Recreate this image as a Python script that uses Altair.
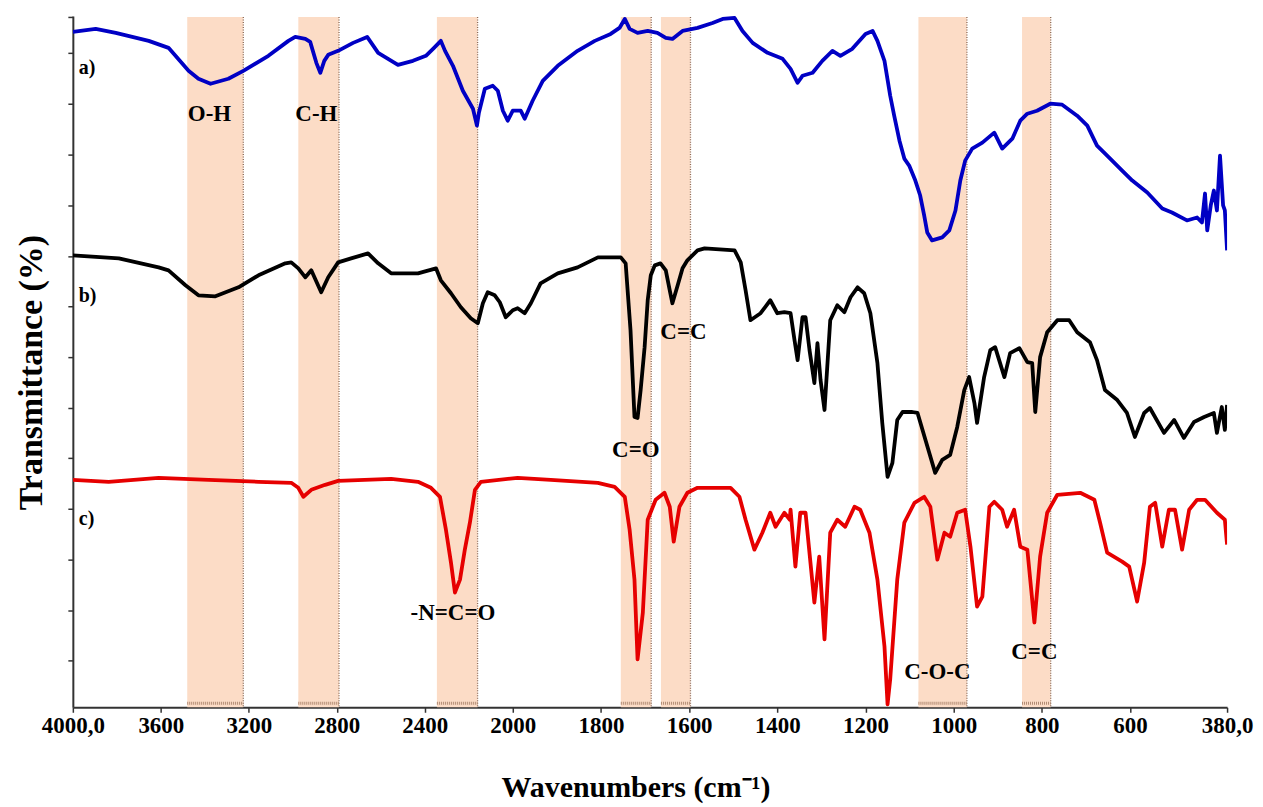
import altair as alt
import pandas as pd

# ---- spectrum a) (blue) ----
a_wn = [4000, 3896, 3805, 3655, 3565, 3474, 3429, 3374, 3293, 3225, 3111, 3020, 2989, 2943, 2921, 2893,
        2875, 2857, 2839, 2794, 2726, 2662, 2612, 2522, 2454, 2395, 2358, 2327, 2308, 2272, 2227, 2181,
        2163, 2154, 2127, 2091, 2068, 2045, 2023, 2000, 1982, 1973, 1955, 1932, 1898, 1853, 1814, 1778,
        1758, 1746, 1735, 1717, 1694, 1672, 1653, 1638, 1615, 1581, 1547, 1524, 1497, 1479, 1456, 1422,
        1388, 1370, 1354, 1343, 1320, 1298, 1275, 1257, 1230, 1200, 1184, 1173, 1157, 1144, 1135, 1123,
        1112, 1101, 1087, 1076, 1067, 1060, 1049, 1026, 1010, 996, 985, 974, 958, 935, 908, 890,
        867, 849, 833, 811, 781, 754, 720, 697, 675, 652, 618, 595, 561, 527, 505, 471,
        448, 437, 430, 425, 417, 410, 403, 396, 389, 385, 380]
a_t = [677, 680, 676, 668, 661, 638, 630, 625, 630, 638, 653, 668, 672, 670, 667, 646,
       636, 648, 654, 658, 666, 672, 656, 644, 648, 653, 661, 668, 658, 643, 618, 600,
       583, 596, 620, 623, 618, 598, 588, 598, 598, 590, 608, 628, 643, 658, 668, 675,
       681, 690, 680, 676, 678, 676, 671, 670, 678, 681, 686, 690, 691, 678, 666, 656,
       650, 640, 626, 633, 636, 648, 658, 653, 660, 675, 678, 668, 648, 613, 593, 568,
       550, 543, 528, 513, 493, 476, 468, 471, 478, 498, 528, 548, 560, 566, 576, 560,
       570, 588, 595, 598, 605, 604, 593, 583, 563, 553, 538, 528, 516, 500, 496, 488,
       491, 486, 515, 478, 503, 518, 498, 553, 503, 498, 458]

# ---- spectrum b) (black) ----
b_wn = [4000, 3791, 3610, 3565, 3488, 3429, 3352, 3247, 3156, 3034, 3007, 2975, 2943, 2916, 2871, 2839,
        2794, 2735, 2658, 2612, 2553, 2431, 2349, 2327, 2281, 2236, 2191, 2159, 2136, 2114, 2082, 2059,
        2032, 2000, 1989, 1973, 1959, 1937, 1898, 1853, 1807, 1755, 1744, 1733, 1724, 1717, 1710, 1701,
        1694, 1687, 1678, 1665, 1653, 1644, 1638, 1626, 1615, 1604, 1581, 1565, 1497, 1483, 1472, 1461,
        1438, 1416, 1400, 1384, 1370, 1361, 1354, 1343, 1336, 1327, 1316, 1309, 1302, 1293, 1280, 1264,
        1248, 1234, 1218, 1203, 1189, 1173, 1162, 1150, 1139, 1128, 1116, 1094, 1082, 1064, 1042, 1026,
        1008, 992, 976, 965, 953, 947, 931, 917, 906, 885, 872, 851, 833, 822, 815, 804,
        788, 765, 738, 720, 691, 675, 657, 629, 607, 589, 568, 555, 523, 500, 478, 455,
        432, 410, 403, 392, 385, 380]
b_t = [453, 450, 441, 438, 423, 413, 412, 421, 433, 445, 446, 440, 431, 438, 416, 431,
       446, 450, 455, 445, 435, 435, 440, 428, 415, 401, 390, 385, 405, 416, 413, 406,
       391, 398, 400, 395, 405, 425, 435, 441, 451, 451, 445, 378, 291, 290, 318, 361,
       408, 433, 443, 445, 438, 418, 405, 423, 440, 448, 458, 460, 458, 446, 418, 388,
       395, 408, 395, 396, 395, 368, 348, 391, 391, 358, 325, 365, 328, 298, 388, 403,
       396, 411, 421, 415, 395, 345, 285, 231, 245, 288, 296, 296, 295, 268, 235, 248,
       253, 281, 318, 331, 305, 285, 331, 358, 361, 331, 355, 360, 346, 345, 296, 351,
       376, 388, 388, 376, 366, 348, 318, 308, 295, 271, 295, 300, 275, 288, 270, 286,
       291, 295, 275, 301, 278, 303]

# ---- spectrum c) (red) ----
c_wn = [4000, 3837, 3610, 3383, 3156, 3007, 2975, 2952, 2916, 2853, 2794, 2553, 2431, 2372, 2331, 2304,
        2281, 2263, 2240, 2218, 2195, 2172, 2145, 1989, 1914, 1807, 1769, 1746, 1735, 1724, 1717, 1705,
        1694, 1676, 1656, 1644, 1635, 1622, 1604, 1581, 1506, 1486, 1472, 1452, 1434, 1416, 1404, 1384,
        1372, 1370, 1359, 1348, 1336, 1316, 1305, 1293, 1280, 1264, 1246, 1225, 1212, 1191, 1173, 1157,
        1150, 1144, 1128, 1112, 1089, 1067, 1053, 1037, 1021, 1008, 992, 974, 962, 947, 935, 919,
        908, 890, 879, 863, 849, 833, 817, 804, 788, 765, 713, 681, 668, 652, 618, 602,
        584, 568, 555, 543, 527, 512, 498, 482, 466, 448, 430, 403, 385, 380]
c_t = [228, 226, 230, 228, 226, 225, 220, 211, 218, 223, 227, 229, 226, 220, 211, 178,
       145, 115, 128, 158, 185, 218, 226, 230, 228, 225, 221, 211, 178, 128, 48, 95,
       188, 208, 215, 201, 166, 201, 215, 220, 220, 211, 188, 158, 175, 195, 181, 195,
       188, 198, 141, 195, 195, 105, 151, 68, 175, 188, 181, 201, 198, 175, 128, 61,
       3, 28, 128, 185, 205, 211, 201, 148, 175, 171, 195, 198, 161, 101, 111, 201,
       206, 198, 181, 198, 161, 158, 85, 151, 195, 213, 215, 208, 185, 155, 146, 141,
       106, 145, 201, 205, 161, 198, 198, 158, 198, 208, 208, 195, 188, 163]

# ---- highlighted bands (wavenumber start / end) ----
band_start = [3480, 2975, 2345, 1755, 1664, 1080, 845]
band_end = [3225, 2790, 2160, 1686, 1597, 970, 780]

# ---- annotations ----
series_text = ["a)", "b)", "c)"]
series_wn = [3973, 3973, 3973]
series_t = [641, 412, 189]

peak_text = ["O-H", "C-H", "-N=C=O", "C=O", "C=C", "C-O-C", "C=C"]
peak_wn = [3379, 2893, 2272, 1721, 1613, 1037, 817]
peak_t = [595, 595, 94, 258, 376, 35, 55]

x_ticks = [4000, 3600, 3200, 2800, 2400, 2000, 1800, 1600, 1400, 1200, 1000, 800, 600, 380]
y_ticks = [692, 656, 605, 554, 503, 452, 402, 351, 300, 250, 199, 148, 97, 47]

spec = pd.concat([
    pd.DataFrame({"wn": a_wn, "t": a_t, "s": "a"}),
    pd.DataFrame({"wn": b_wn, "t": b_t, "s": "b"}),
    pd.DataFrame({"wn": c_wn, "t": c_t, "s": "c"}),
], ignore_index=True)
bands = pd.DataFrame({"start": band_start, "end": band_end})
slab = pd.DataFrame({"wn": series_wn, "t": series_t, "txt": series_text})
plab = pd.DataFrame({"wn": peak_wn, "t": peak_t, "txt": peak_text})

FONT = "Liberation Serif"
W, H = 1157, 693

xs = alt.Scale(domain=[4000, 2000, 380], range=[0, 441, W], nice=False, zero=False)
ys = alt.Scale(domain=[0, H], nice=False, zero=False)

x_axis = alt.Axis(
    values=x_ticks, format="d",
    labelExpr="datum.value == 4000 ? '4000,0' : datum.value == 380 ? '380,0' : datum.label",
    labelFont=FONT, labelFontWeight="bold", labelFontSize=23, labelColor="black",
    labelPadding=2, labelOverlap=False, labelFlush=False,
    tickSize=5, tickColor="#333333", tickWidth=1.5,
    domainColor="#333333", domainWidth=2, grid=False,
    title="Wavenumbers (cm⁻¹)", titleFont=FONT, titleFontWeight="bold", titleFontSize=30,
    titleColor="black", titleX=564, titleY=89, titleBaseline="alphabetic", titleAlign="center",
)
y_axis = alt.Axis(
    values=y_ticks, labels=False, tickSize=5, tickColor="#333333", tickWidth=1.5,
    domainColor="#333333", domainWidth=2, grid=False,
    title="Transmittance (%)", titleFont=FONT, titleFontWeight="bold", titleFontSize=34,
    titleColor="black", titleAngle=-90, titleX=-31, titleY=357,
    titleBaseline="alphabetic", titleAlign="center",
)

band_rect = alt.Chart(bands).mark_rect(color="#FCDCC6").encode(
    x=alt.X("start:Q", scale=xs, axis=x_axis), x2="end:Q",
    y=alt.value(1), y2=alt.value(H),
)
band_edge = alt.Chart(bands).mark_rule(color="#8a6a58", strokeWidth=1.3, strokeDash=[1, 1.5]).encode(
    x=alt.X("end:Q", scale=xs), y=alt.value(1), y2=alt.value(H),
)
band_foot = alt.Chart(bands).mark_rule(color="#b08a72", strokeWidth=3, strokeDash=[1, 1]).encode(
    x=alt.X("start:Q", scale=xs), x2="end:Q", y=alt.value(H - 4),
)

lines = alt.Chart(spec).mark_line(strokeWidth=3.8, strokeJoin="round", clip=True).encode(
    x=alt.X("wn:Q", scale=xs),
    y=alt.Y("t:Q", scale=ys, axis=y_axis),
    color=alt.Color("s:N", scale=alt.Scale(domain=["a", "b", "c"],
                                          range=["#0000C4", "#000000", "#E60000"]), legend=None),
    order=alt.Order("s:N"),
)

series_labels = alt.Chart(slab).mark_text(
    font=FONT, fontWeight="bold", fontSize=20, align="left", baseline="middle", color="black"
).encode(x=alt.X("wn:Q", scale=xs), y=alt.Y("t:Q", scale=ys), text="txt:N")

peak_labels = alt.Chart(plab).mark_text(
    font=FONT, fontWeight="bold", fontSize=23, align="center", baseline="middle", color="black"
).encode(x=alt.X("wn:Q", scale=xs), y=alt.Y("t:Q", scale=ys), text="txt:N")

chart = alt.layer(band_rect, band_edge, band_foot, lines, series_labels, peak_labels).properties(
    width=W, height=H,
    autosize=alt.AutoSizeParams(type="none"),
    padding={"left": 65, "top": 7, "right": 28, "bottom": 99},
    background="white",
).configure_view(stroke=None)

chart.save("out.html", embed_options={"renderer": "svg", "actions": False})
